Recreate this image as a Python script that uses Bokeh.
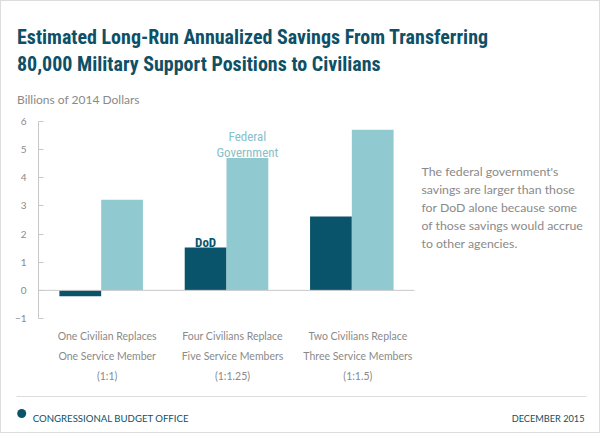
from bokeh.plotting import figure
from bokeh.models import Range1d, Label, FixedTicker, ColumnDataSource
from bokeh.transform import dodge
from bokeh.layouts import column
from bokeh.embed import file_html
from bokeh.resources import INLINE

# ---------------- data ----------------
group_index = [0, 1, 2]
cat_line1 = ["One Civilian Replaces", "Four Civilians Replace", "Two Civilians Replace"]
cat_line2 = ["One Service Member", "Five Service Members", "Three Service Members"]
cat_ratio = ["(1:1)", "(1:1.25)", "(1:1.5)"]
dod = [-0.21, 1.52, 2.62]
federal = [3.22, 4.70, 5.71]
y_ticks = [-1, 0, 1, 2, 3, 4, 5, 6]

title_lines = ["Estimated Long-Run Annualized Savings From Transferring",
               "80,000 Military Support Positions to Civilians"]
y_unit = "Billions of 2014 Dollars"
note_lines = ["The federal government's",
              "savings are larger than those",
              "for DoD alone because some",
              "of those savings would accrue",
              "to other agencies."]
series_dod = "DoD"
series_fed = ["Federal", "Government"]
footer_left = "CONGRESSIONAL BUDGET OFFICE"
footer_right = "DECEMBER 2015"

# ---------------- style ----------------
DARK = "#0a546b"
LIGHT = "#91c9d1"
FEDTXT = "#86c0c9"
TITLE = "#0e5066"
GRAY = "#8a8a8a"
AXIS = "#c8c8c8"
BODY = "Lato"
COND = "'Noto Sans Condensed', 'Liberation Sans Narrow', 'Roboto Condensed', Roboto, sans-serif"

W = 600
HEAD_H = 112          # canvas rows 0..112
FOOT_TOP = 388        # footer rows 388..433
H = 433
AX_LEFT = 38          # y axis line x
Y6, YM1 = 121, 318    # pixel rows of y = 6 and y = -1
X_LEFT_PX, X_RIGHT_PX = 38, 414


def common(f):
    f.outline_line_color = None
    f.grid.visible = False
    f.background_fill_color = None
    f.border_fill_color = None
    try:
        f.frame_align = False
    except Exception:
        pass


def plain_fig(height, y0, y1):
    f = figure(width=W, height=height, output_backend="svg", toolbar_location=None,
               x_range=Range1d(0, W), y_range=Range1d(y1, y0),
               x_axis_location=None, y_axis_location=None,
               min_border=0)
    common(f)
    return f

# ---------------- header ----------------
head = plain_fig(HEAD_H, 0, HEAD_H)
for i, t in enumerate(title_lines):
    head.add_layout(Label(text=t, x=16.5, y=[36.7, 63.5][i], text_baseline="alphabetic",
                          text_font=COND, text_font_style="bold", text_font_size="20px",
                          text_color=TITLE))
head.add_layout(Label(text=y_unit, x=16.5, y=99.3, text_baseline="alphabetic",
                      text_font=BODY, text_font_size="12px", text_color=GRAY))

# ---------------- chart ----------------
ppu_y = (YM1 - Y6) / (y_ticks[-1] - y_ticks[0])
y_top = y_ticks[-1] + (Y6 - HEAD_H) / ppu_y
y_bot = y_ticks[-1] - (FOOT_TOP - Y6) / ppu_y
ppu_x = (X_RIGHT_PX - X_LEFT_PX) / len(group_index)
x_lo = group_index[0] - 0.5
x_hi = x_lo + (W - X_LEFT_PX) / ppu_x

src = ColumnDataSource(dict(x=group_index, dod=dod, federal=federal))

p = figure(width=W, height=FOOT_TOP - HEAD_H, output_backend="svg", toolbar_location=None,
           x_range=Range1d(x_lo, x_hi), y_range=Range1d(y_bot, y_top),
           x_axis_location=None,
           min_border_left=AX_LEFT, min_border_right=0,
           min_border_top=0, min_border_bottom=0)
common(p)

p.vbar(x=dodge('x', -1/6, range=p.x_range), top='dod', bottom=0, width=1/3,
       fill_color=DARK, line_color=None, source=src)
p.vbar(x=dodge('x', 1/6, range=p.x_range), top='federal', bottom=0, width=1/3,
       fill_color=LIGHT, line_color=None, source=src)
p.segment(x0=[group_index[0] - 0.5], x1=[group_index[-1] + 0.5], y0=[0], y1=[0],
          line_color=AXIS, line_width=1)

ax = p.yaxis[0]
ax.ticker = FixedTicker(ticks=y_ticks)
ax.bounds = (y_ticks[0], y_ticks[-1])
ax.axis_line_color = AXIS
ax.major_tick_line_color = AXIS
ax.major_tick_in = 5
ax.major_tick_out = 0
ax.minor_tick_line_color = None
ax.major_label_standoff = 12
ax.major_label_text_font = BODY
ax.major_label_text_font_size = "10px"
ax.major_label_text_color = GRAY


def sy(py):
    return FOOT_TOP - py


# note
for i, t in enumerate(note_lines):
    p.add_layout(Label(text=t, x=421 - AX_LEFT, y=sy(171 + 17.9 * i), x_units="screen",
                       y_units="screen", text_baseline="alphabetic", text_font=BODY,
                       text_font_size="12.3px", text_color=GRAY))

# series labels
p.add_layout(Label(text=series_dod, x=group_index[1] - 1/6, y=sy(241.7), x_units="data",
                   y_units="screen", text_align="center", text_baseline="alphabetic",
                   text_font=COND, text_font_style="bold", text_font_size="13px",
                   text_color=DARK))
for i, t in enumerate(series_fed):
    p.add_layout(Label(text=t, x=group_index[1] + 1/6, y=sy([136, 152][i]), x_units="data",
                       y_units="screen", text_align="center", text_baseline="alphabetic",
                       text_font=COND, text_font_size="13px", text_color=FEDTXT))

# category labels
for g in group_index:
    for j, t in enumerate([cat_line1[g], cat_line2[g], cat_ratio[g]]):
        p.add_layout(Label(text=t, x=g, y=sy([335.7, 355.2, 375][j]), x_offset=6,
                           x_units="data", y_units="screen", text_align="center",
                           text_baseline="alphabetic", text_font=BODY,
                           text_font_size="10.5px", text_color=GRAY))

# ---------------- footer ----------------
foot = plain_fig(H - FOOT_TOP, FOOT_TOP, H)
foot.segment(x0=[16], x1=[586], y0=[396], y1=[396], line_color="#dcdcdc", line_width=1)
foot.scatter(x=[21.2], y=[413], size=9, marker="circle", fill_color=DARK, line_color=None)
foot.add_layout(Label(text=footer_left, x=32.3, y=417.7, text_baseline="alphabetic",
                      text_font=BODY, text_font_size="9.6px", text_color=TITLE))
foot.add_layout(Label(text=footer_right, x=584, y=417.7, text_align="right",
                      text_baseline="alphabetic", text_font=BODY, text_font_size="9.2px",
                      text_color=TITLE))

layout = column(head, p, foot, spacing=0,
                styles={"outline": "1px solid #dcdcdc", "outline-offset": "-1px",
                        "background-color": "white"})
open("out.html", "w").write(file_html(layout, INLINE))
